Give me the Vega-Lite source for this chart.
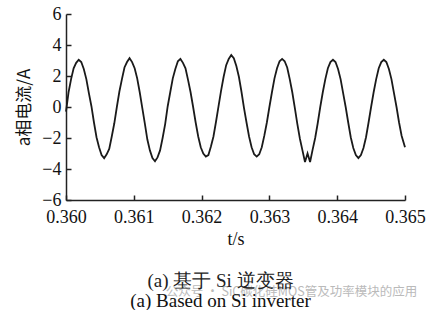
{
  "$schema": "https://vega.github.io/schema/vega-lite/v6.json",
  "width": 339,
  "height": 186,
  "autosize": "none",
  "padding": {"left": 66, "top": 14, "right": 33, "bottom": 110},
  "background": "white",
  "config": {
    "view": {"stroke": null},
    "axis": {
      "grid": false,
      "domainColor": "#222",
      "tickColor": "#222",
      "labelColor": "#111",
      "titleColor": "#111",
      "domainWidth": 1.5,
      "tickWidth": 1.5,
      "tickSize": -5,
      "labelFlush": false,
      "labelOverlap": false,
      "labelFont": "Liberation Serif",
      "labelFontSize": 18,
      "titleFontWeight": "normal"
    },
    "axisX": {"labelPadding": 13, "titlePadding": 4, "titleFont": "Liberation Serif", "titleFontSize": 18},
    "axisY": {"labelPadding": 10, "titlePadding": 8, "titleFont": "Noto Sans CJK SC", "titleFontSize": 17}
  },
  "title": {
    "text": "(a) 基于 Si 逆变器",
    "subtitle": "(a) Based on Si inverter",
    "orient": "bottom",
    "anchor": "middle",
    "dx": -15,
    "offset": -27,
    "font": "Liberation Serif",
    "fontSize": 19,
    "fontWeight": "normal",
    "color": "#222",
    "subtitleFont": "Liberation Serif",
    "subtitleFontSize": 19,
    "subtitleColor": "#111",
    "subtitlePadding": 1
  },
  "layer": [
    {
      "data": {"values": [
        {"t": 0.36, "i": -0.3}, {"t": 0.3600375, "i": 0.95}, {"t": 0.360075, "i": 1.8}, {"t": 0.3601125, "i": 2.5}, {"t": 0.36015, "i": 2.85},
        {"t": 0.3601875, "i": 3.05}, {"t": 0.360225, "i": 2.9}, {"t": 0.3602625, "i": 2.45}, {"t": 0.3603, "i": 1.8}, {"t": 0.3603375, "i": 0.9},
        {"t": 0.360375, "i": 0.05}, {"t": 0.3604125, "i": -1.0}, {"t": 0.36045, "i": -1.95}, {"t": 0.3604875, "i": -2.6}, {"t": 0.360525, "i": -3.1},
        {"t": 0.3605625, "i": -3.3}, {"t": 0.3606, "i": -3.05}, {"t": 0.3606375, "i": -2.7}, {"t": 0.360675, "i": -1.9}, {"t": 0.3607125, "i": -1.05},
        {"t": 0.36075, "i": 0.0}, {"t": 0.3607875, "i": 1.0}, {"t": 0.360825, "i": 1.8}, {"t": 0.3608625, "i": 2.55}, {"t": 0.3609, "i": 2.9},
        {"t": 0.3609375, "i": 3.15}, {"t": 0.360975, "i": 2.9}, {"t": 0.3610125, "i": 2.5}, {"t": 0.36105, "i": 1.85}, {"t": 0.3610875, "i": 0.95},
        {"t": 0.361125, "i": -0.05}, {"t": 0.3611625, "i": -1.05}, {"t": 0.3612, "i": -2.1}, {"t": 0.3612375, "i": -2.8}, {"t": 0.361275, "i": -3.3},
        {"t": 0.3613125, "i": -3.5}, {"t": 0.36135, "i": -3.25}, {"t": 0.3613875, "i": -2.8}, {"t": 0.361425, "i": -2.0}, {"t": 0.3614625, "i": -1.1},
        {"t": 0.3615, "i": 0.05}, {"t": 0.3615375, "i": 0.95}, {"t": 0.361575, "i": 1.85}, {"t": 0.3616125, "i": 2.45}, {"t": 0.36165, "i": 2.95},
        {"t": 0.3616875, "i": 3.1}, {"t": 0.361725, "i": 2.85}, {"t": 0.3617625, "i": 2.5}, {"t": 0.3618, "i": 1.75}, {"t": 0.3618375, "i": 0.95},
        {"t": 0.361875, "i": 0.0}, {"t": 0.3619125, "i": -1.0}, {"t": 0.36195, "i": -1.9}, {"t": 0.3619875, "i": -2.6}, {"t": 0.362025, "i": -3.0},
        {"t": 0.3620625, "i": -3.2}, {"t": 0.3621, "i": -3.1}, {"t": 0.3621375, "i": -2.55}, {"t": 0.362175, "i": -1.9}, {"t": 0.3622125, "i": -0.95},
        {"t": 0.36225, "i": 0.05}, {"t": 0.3622875, "i": 1.05}, {"t": 0.362325, "i": 1.95}, {"t": 0.3623625, "i": 2.7}, {"t": 0.3624, "i": 3.1},
        {"t": 0.3624375, "i": 3.35}, {"t": 0.362475, "i": 3.15}, {"t": 0.3625125, "i": 2.65}, {"t": 0.36255, "i": 1.95}, {"t": 0.3625875, "i": 1.0},
        {"t": 0.362625, "i": -0.05}, {"t": 0.3626625, "i": -1.0}, {"t": 0.3627, "i": -1.9}, {"t": 0.3627375, "i": -2.6}, {"t": 0.362775, "i": -3.05},
        {"t": 0.3628125, "i": -3.2}, {"t": 0.36285, "i": -3.05}, {"t": 0.3628875, "i": -2.6}, {"t": 0.362925, "i": -1.85}, {"t": 0.3629625, "i": -1.0},
        {"t": 0.363, "i": 0.0}, {"t": 0.3630375, "i": 0.95}, {"t": 0.363075, "i": 1.85}, {"t": 0.3631125, "i": 2.5}, {"t": 0.36315, "i": 2.95},
        {"t": 0.3631875, "i": 3.1}, {"t": 0.363225, "i": 2.95}, {"t": 0.3632625, "i": 2.55}, {"t": 0.3633, "i": 1.8}, {"t": 0.3633375, "i": 0.95},
        {"t": 0.363375, "i": -0.05}, {"t": 0.3634125, "i": -1.1}, {"t": 0.36345, "i": -2.05}, {"t": 0.3634875, "i": -2.8}, {"t": 0.363525, "i": -3.55},
        {"t": 0.3635625, "i": -3.0}, {"t": 0.3636, "i": -3.55}, {"t": 0.3636375, "i": -2.75}, {"t": 0.363675, "i": -2.0}, {"t": 0.3637125, "i": -1.05},
        {"t": 0.36375, "i": 0.0}, {"t": 0.3637875, "i": 0.95}, {"t": 0.363825, "i": 1.8}, {"t": 0.3638625, "i": 2.5}, {"t": 0.3639, "i": 2.9},
        {"t": 0.3639375, "i": 3.05}, {"t": 0.363975, "i": 2.9}, {"t": 0.3640125, "i": 2.45}, {"t": 0.36405, "i": 1.8}, {"t": 0.3640875, "i": 0.9},
        {"t": 0.364125, "i": 0.0}, {"t": 0.3641625, "i": -1.0}, {"t": 0.3642, "i": -1.95}, {"t": 0.3642375, "i": -2.65}, {"t": 0.364275, "i": -3.1},
        {"t": 0.3643125, "i": -3.3}, {"t": 0.36435, "i": -3.1}, {"t": 0.3643875, "i": -2.65}, {"t": 0.364425, "i": -1.95}, {"t": 0.3644625, "i": -1.0},
        {"t": 0.3645, "i": 0.0}, {"t": 0.3645375, "i": 0.95}, {"t": 0.364575, "i": 1.8}, {"t": 0.3646125, "i": 2.5}, {"t": 0.36465, "i": 2.9},
        {"t": 0.3646875, "i": 3.05}, {"t": 0.364725, "i": 2.9}, {"t": 0.3647625, "i": 2.45}, {"t": 0.3648, "i": 1.8}, {"t": 0.3648375, "i": 0.9},
        {"t": 0.364875, "i": 0.0}, {"t": 0.3649125, "i": -1.0}, {"t": 0.36495, "i": -1.85}, {"t": 0.365, "i": -2.6}
      ]},
      "mark": {"type": "line", "color": "#1a1a1a", "strokeWidth": 1.8},
      "encoding": {
        "x": {
          "field": "t", "type": "quantitative",
          "scale": {"domain": [0.36, 0.365], "nice": false, "zero": false},
          "axis": {"values": [0.36, 0.361, 0.362, 0.363, 0.364, 0.365], "format": ".3f", "title": "t/s", "labelOverlap": false, "labelFlush": false, "labelFont": "Liberation Serif"}
        },
        "y": {
          "field": "i", "type": "quantitative",
          "scale": {"domain": [-6, 6], "nice": false, "zero": false},
          "axis": {"values": [-6, -4, -2, 0, 2, 4, 6], "title": "a相电流/A", "labelOverlap": false, "labelFlush": false, "labelFont": "Liberation Serif"}
        }
      }
    },
    {
      "data": {"values": [{"label": "公众号  ·  SiC碳化硅MOS管及功率模块的应用"}]},
      "mark": {"type": "text", "color": "#b3b3b3", "fontSize": 12.5, "font": "Noto Sans CJK SC", "opacity": 0.9},
      "encoding": {
        "x": {
          "datum": 0.363326,
          "scale": {"domain": [0.36, 0.365], "nice": false, "zero": false},
          "axis": {"values": [0.36, 0.361, 0.362, 0.363, 0.364, 0.365], "format": ".3f", "title": "t/s", "labelOverlap": false, "labelFlush": false, "labelFont": "Liberation Serif"}
        },
        "y": {
          "datum": -11.94,
          "scale": {"domain": [-6, 6], "nice": false, "zero": false},
          "axis": {"values": [-6, -4, -2, 0, 2, 4, 6], "title": "a相电流/A", "labelOverlap": false, "labelFlush": false, "labelFont": "Liberation Serif"}
        },
        "text": {"field": "label"}
      }
    }
  ]
}
